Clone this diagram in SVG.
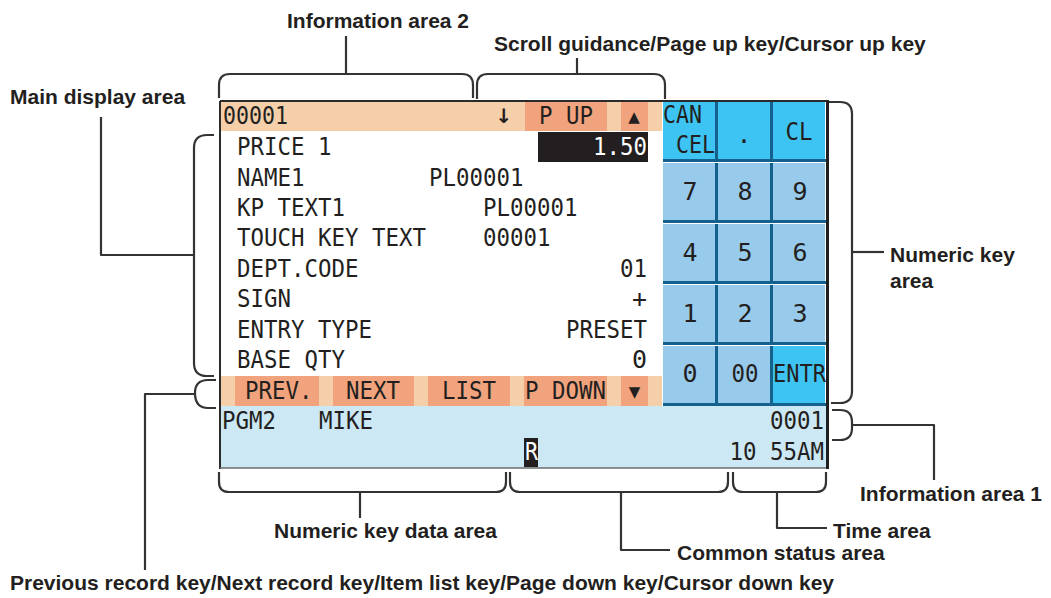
<svg xmlns="http://www.w3.org/2000/svg" width="1051" height="598" viewBox="0 0 1051 598">
  <defs>
    <style>
      .lbl { font-family: "Liberation Sans", Arial, sans-serif; font-weight: bold; font-size: 21px; fill: #231f20; }
      .lcd { font-family: "DejaVu Sans Mono", "Liberation Mono", monospace; font-size: 25px; fill: #231f20; }
      .inv { fill: #ffffff; }
      .sym { font-family: "DejaVu Sans", sans-serif; fill: #231f20; }
      .br { fill: none; stroke: #333333; stroke-width: 2.2; stroke-linejoin: round; }
      .beige { fill: #f4cfa9; }
      .orange { fill: #f0a37d; }
      .keyL { fill: #98caec; }
      .keyC { fill: #3ec4f2; }
      .keyS { fill: #15618e; }
    </style>
  </defs>

  <!-- display frame -->
  <g id="screen">
    <rect x="221" y="102" width="607" height="366" fill="#ffffff"/>
  </g>

  <!-- information area 2 / scroll guidance bar -->
  <g id="top-bar">
    <rect class="beige" x="221" y="102" width="441" height="29"/>
    <rect class="orange" x="525" y="102" width="82" height="29"/>
    <rect class="orange" x="621" y="102" width="27" height="29"/>
    <text class="lcd" x="223" y="124" textLength="65" lengthAdjust="spacingAndGlyphs">00001</text>
    <text class="sym" x="504" y="123" font-size="20" font-weight="bold" text-anchor="middle">↓</text>
    <text class="lcd" x="539" y="124" textLength="54" lengthAdjust="spacingAndGlyphs">P UP</text>
    <text class="sym" x="634" y="122" font-size="15" text-anchor="middle">▲</text>
  </g>

  <!-- main display area -->
  <g id="main-display">
    <rect x="538" y="132" width="110" height="30" fill="#231f20"/>
    <text class="lcd" x="237" y="155" textLength="94.5" lengthAdjust="spacingAndGlyphs">PRICE 1</text>
    <text class="lcd inv" x="647" y="155" text-anchor="end" textLength="54" lengthAdjust="spacingAndGlyphs">1.50</text>
    <text class="lcd" x="237" y="186" textLength="67.5" lengthAdjust="spacingAndGlyphs">NAME1</text>
    <text class="lcd" x="429" y="186" textLength="94.5" lengthAdjust="spacingAndGlyphs">PL00001</text>
    <text class="lcd" x="237" y="216" textLength="108" lengthAdjust="spacingAndGlyphs">KP TEXT1</text>
    <text class="lcd" x="483" y="216" textLength="94.5" lengthAdjust="spacingAndGlyphs">PL00001</text>
    <text class="lcd" x="237" y="246" textLength="189" lengthAdjust="spacingAndGlyphs">TOUCH KEY TEXT</text>
    <text class="lcd" x="483" y="246" textLength="67.5" lengthAdjust="spacingAndGlyphs">00001</text>
    <text class="lcd" x="237" y="277" textLength="121.5" lengthAdjust="spacingAndGlyphs">DEPT.CODE</text>
    <text class="lcd" x="647" y="277" text-anchor="end" textLength="27" lengthAdjust="spacingAndGlyphs">01</text>
    <text class="lcd" x="237" y="307" textLength="54" lengthAdjust="spacingAndGlyphs">SIGN</text>
    <text class="lcd" x="647" y="307" text-anchor="end">+</text>
    <text class="lcd" x="237" y="338" textLength="135" lengthAdjust="spacingAndGlyphs">ENTRY TYPE</text>
    <text class="lcd" x="647" y="338" text-anchor="end" textLength="81" lengthAdjust="spacingAndGlyphs">PRESET</text>
    <text class="lcd" x="237" y="368" textLength="108" lengthAdjust="spacingAndGlyphs">BASE QTY</text>
    <text class="lcd" x="647" y="368" text-anchor="end">0</text>
  </g>

  <!-- record / page keys bar -->
  <g id="bottom-bar">
    <rect class="beige" x="221" y="376" width="441" height="30"/>
    <rect class="orange" x="235" y="376" width="84" height="30"/>
    <rect class="orange" x="333" y="376" width="81" height="30"/>
    <rect class="orange" x="428" y="376" width="82" height="30"/>
    <rect class="orange" x="524" y="376" width="83" height="30"/>
    <rect class="orange" x="621" y="376" width="27" height="30"/>
    <text class="lcd" x="245" y="399" textLength="67.5" lengthAdjust="spacingAndGlyphs">PREV.</text>
    <text class="lcd" x="346" y="399" textLength="54" lengthAdjust="spacingAndGlyphs">NEXT</text>
    <text class="lcd" x="442" y="399" textLength="54" lengthAdjust="spacingAndGlyphs">LIST</text>
    <text class="lcd" x="525" y="399" textLength="81" lengthAdjust="spacingAndGlyphs">P DOWN</text>
    <text class="sym" x="634.5" y="397" font-size="15" text-anchor="middle">▼</text>
  </g>

  <!-- numeric keypad -->
  <g id="keypad">
    <rect x="662" y="102" width="166" height="304" fill="#ffffff"/>
    <!-- row 1 -->
    <rect class="keyC" x="663" y="102" width="52" height="57"/>
    <rect class="keyC" x="718" y="102" width="52" height="57"/>
    <rect class="keyC" x="773" y="102" width="52" height="57"/>
    <!-- rows 2-5 -->
    <rect class="keyL" x="663" y="163" width="52" height="57"/>
    <rect class="keyL" x="718" y="163" width="52" height="57"/>
    <rect class="keyL" x="773" y="163" width="52" height="57"/>
    <rect class="keyL" x="663" y="224" width="52" height="57"/>
    <rect class="keyL" x="718" y="224" width="52" height="57"/>
    <rect class="keyL" x="773" y="224" width="52" height="57"/>
    <rect class="keyL" x="663" y="285" width="52" height="57"/>
    <rect class="keyL" x="718" y="285" width="52" height="57"/>
    <rect class="keyL" x="773" y="285" width="52" height="57"/>
    <rect class="keyL" x="663" y="346" width="52" height="57"/>
    <rect class="keyL" x="718" y="346" width="52" height="57"/>
    <rect class="keyC" x="773" y="346" width="52" height="57"/>
    <!-- key shadows -->
    <g class="keyS">
      <rect x="663" y="159" width="55" height="3"/><rect x="715" y="102" width="3" height="60"/>
      <rect x="718" y="159" width="55" height="3"/><rect x="770" y="102" width="3" height="60"/>
      <rect x="773" y="159" width="55" height="3"/>
      <rect x="663" y="220" width="55" height="3"/><rect x="715" y="163" width="3" height="60"/>
      <rect x="718" y="220" width="55" height="3"/><rect x="770" y="163" width="3" height="60"/>
      <rect x="773" y="220" width="55" height="3"/>
      <rect x="663" y="281" width="55" height="3"/><rect x="715" y="224" width="3" height="60"/>
      <rect x="718" y="281" width="55" height="3"/><rect x="770" y="224" width="3" height="60"/>
      <rect x="773" y="281" width="55" height="3"/>
      <rect x="663" y="342" width="55" height="3"/><rect x="715" y="285" width="3" height="60"/>
      <rect x="718" y="342" width="55" height="3"/><rect x="770" y="285" width="3" height="60"/>
      <rect x="773" y="342" width="55" height="3"/>
      <rect x="663" y="403" width="55" height="3"/><rect x="715" y="346" width="3" height="60"/>
      <rect x="718" y="403" width="55" height="3"/><rect x="770" y="346" width="3" height="60"/>
      <rect x="773" y="403" width="55" height="3"/>
    </g>
    <text class="lcd" x="663" y="123" textLength="39" lengthAdjust="spacingAndGlyphs">CAN</text>
    <text class="lcd" x="676" y="153" textLength="39" lengthAdjust="spacingAndGlyphs">CEL</text>
    <text class="lcd" x="744" y="143" text-anchor="middle">.</text>
    <text class="lcd" x="799" y="140" text-anchor="middle" textLength="27" lengthAdjust="spacingAndGlyphs">CL</text>
    <text class="lcd" x="690" y="200" text-anchor="middle">7</text>
    <text class="lcd" x="745" y="200" text-anchor="middle">8</text>
    <text class="lcd" x="800" y="200" text-anchor="middle">9</text>
    <text class="lcd" x="690" y="261" text-anchor="middle">4</text>
    <text class="lcd" x="745" y="261" text-anchor="middle">5</text>
    <text class="lcd" x="800" y="261" text-anchor="middle">6</text>
    <text class="lcd" x="690" y="322" text-anchor="middle">1</text>
    <text class="lcd" x="745" y="322" text-anchor="middle">2</text>
    <text class="lcd" x="800" y="322" text-anchor="middle">3</text>
    <text class="lcd" x="690" y="382" text-anchor="middle">0</text>
    <text class="lcd" x="745" y="382" text-anchor="middle" textLength="27" lengthAdjust="spacingAndGlyphs">00</text>
    <text class="lcd" x="773" y="382" textLength="53" lengthAdjust="spacingAndGlyphs">ENTR</text>
  </g>

  <!-- information area 1 / status / time -->
  <g id="info-area-1">
    <rect x="221" y="406" width="607" height="62" fill="#cce8f4"/>
    <text class="lcd" x="222" y="429" textLength="54" lengthAdjust="spacingAndGlyphs">PGM2</text>
    <text class="lcd" x="319" y="429" textLength="54" lengthAdjust="spacingAndGlyphs">MIKE</text>
    <text class="lcd" x="824" y="429" text-anchor="end" textLength="54" lengthAdjust="spacingAndGlyphs">0001</text>
    <rect x="524" y="438" width="14" height="29" fill="#231f20"/>
    <text class="lcd inv" x="525" y="460" textLength="13" lengthAdjust="spacingAndGlyphs">R</text>
    <text class="lcd" x="824" y="460" text-anchor="end" textLength="94.5" lengthAdjust="spacingAndGlyphs">10 55AM</text>
  </g>

  <!-- frame lines -->
  <g id="frame" fill="none">
    <path d="M220,101 H829" stroke="#2b2b2b" stroke-width="2"/>
    <path d="M220,101 V469" stroke="#2b2b2b" stroke-width="2"/>
    <path d="M220,468 H829" stroke="#6d6d6d" stroke-width="1.6"/>
    <path d="M827.5,101 V469" stroke="#1f1f1f" stroke-width="3"/>
  </g>

  <!-- brackets and leader lines -->
  <g id="connectors" class="br">
    <path d="M219,98 V85 Q219,74 230,74 H462 Q473,74 473,85 V98"/>
    <path d="M346,74 V36"/>
    <path d="M477,99 V85 Q477,74 488,74 H654 Q665,74 665,85 V99"/>
    <path d="M577,74 V58"/>
    <path d="M214,135 H207 Q194,135 194,148 V363 Q194,376 207,376 H214"/>
    <path d="M194,255 H101 V117"/>
    <path d="M216,380 H208 Q195,380 195,393 Q195,408 208,408 H216"/>
    <path d="M195,394 H145 V570"/>
    <path d="M829,102 H840 Q852,102 852,114 V391 Q852,403 840,403 H831"/>
    <path d="M852,252 H884"/>
    <path d="M832,410 H840 Q852,410 852,422 V428 Q852,440 840,440 H832"/>
    <path d="M852,425 H934 V480"/>
    <path d="M219,472 V482 Q219,492 229,492 H496 Q506,492 506,482 V472"/>
    <path d="M360,492 V518"/>
    <path d="M510,472 V482 Q510,492 520,492 H718 Q728,492 728,482 V472"/>
    <path d="M621,492 V550 H670"/>
    <path d="M733,472 V482 Q733,492 743,492 H816 Q826,492 826,482 V472"/>
    <path d="M777,492 V528 H827"/>
  </g>

  <!-- area labels -->
  <g id="labels">
    <text class="lbl" x="287" y="28">Information area 2</text>
    <text class="lbl" x="494" y="51">Scroll guidance/Page up key/Cursor up key</text>
    <text class="lbl" x="10" y="104">Main display area</text>
    <text class="lbl" x="890" y="262">Numeric key</text>
    <text class="lbl" x="890" y="288">area</text>
    <text class="lbl" x="860" y="501">Information area 1</text>
    <text class="lbl" x="833" y="538">Time area</text>
    <text class="lbl" x="677" y="560">Common status area</text>
    <text class="lbl" x="274" y="538">Numeric key data area</text>
    <text class="lbl" x="10" y="590">Previous record key/Next record key/Item list key/Page down key/Cursor down key</text>
  </g>
</svg>
